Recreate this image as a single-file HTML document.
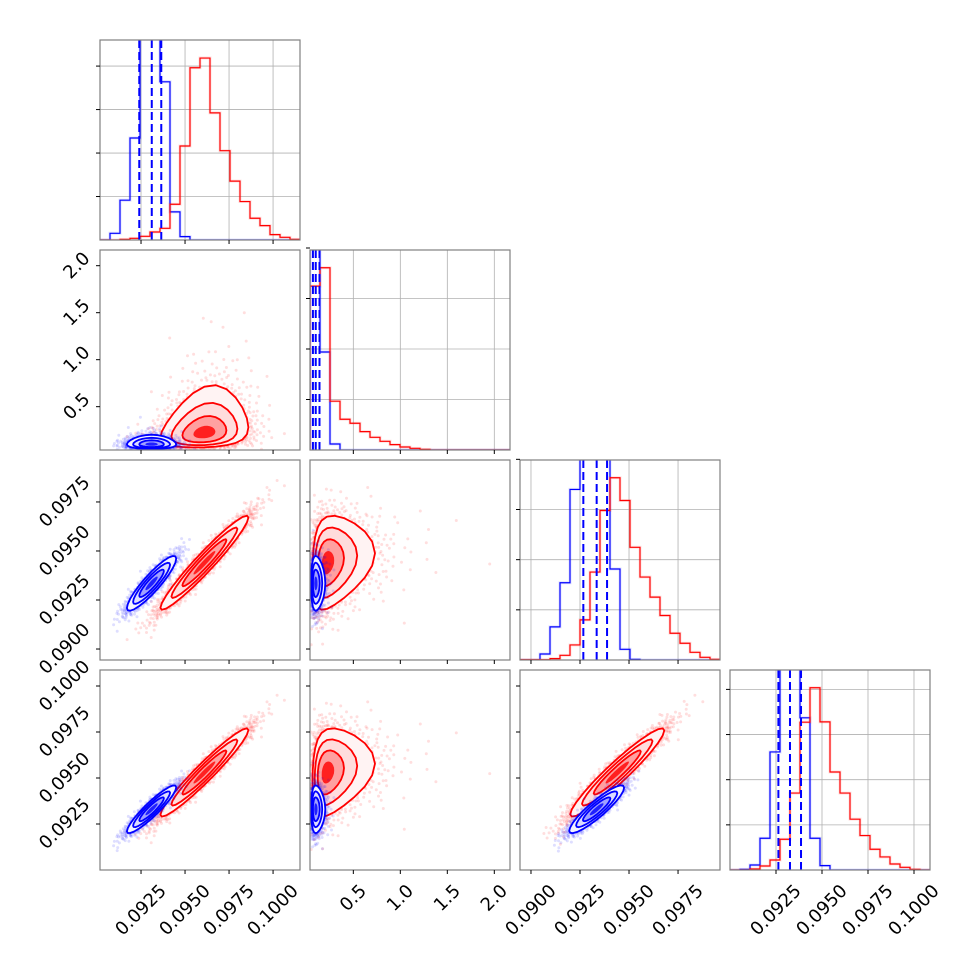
<!DOCTYPE html>
<html><head><meta charset="utf-8"><style>
html,body{margin:0;padding:0;background:#fff}
svg{display:block}
text{font-family:"DejaVu Sans","Liberation Sans",sans-serif;font-size:18px;fill:#000}
</style></head><body>
<svg id="fig" width="970" height="970" viewBox="0 0 970 970" xmlns="http://www.w3.org/2000/svg"></svg>
<script>
// ---- data ----
const paramMin = [0.09017, 0.039, 0.08944, 0.09];
const paramMax = [0.10153, 2.167, 0.09964, 0.10087];
const tickVals = [[0.0925,0.095,0.0975,0.1],[0.5,1.0,1.5,2.0],[0.09,0.0925,0.095,0.0975],[0.0925,0.095,0.0975,0.1]];
const tickLabels = [["0.0925","0.0950","0.0975","0.1000"],["0.5","1.0","1.5","2.0"],["0.0900","0.0925","0.0950","0.0975"],["0.0925","0.0950","0.0975","0.1000"]];
// histogram counts, 20 bins across each param range
const histBlue0 = [0,20,119,305,760,700,473,84,10,0,0,0,0,0,0,0,0,0,0,0];
const histRed0  = [0,0,2,5,11,24,35,107,281,515,544,380,267,176,115,65,43,16,8,2];
const histBlue1 = [820,293,18,0,0,0,0,0,0,0,0,0,0,0,0,0,0,0,0,0];
const histRed1  = [490,545,146,92,80,55,38,26,16,9,5,2,0,0,0,0,0,0,0,0];
const histBlue2 = [0,0,18,99,231,510,700,760,690,272,32,2,0,0,0,0,0,0,0,0];
const histRed2  = [1,1,1,4,14,45,120,263,447,545,477,337,248,188,133,80,50,23,8,2];
const histBlue3 = [0,2,15,95,353,720,740,455,95,13,0,0,0,0,0,0,0,0,0,0];
const histRed3  = [0,0,3,12,30,92,230,442,545,443,293,230,152,103,62,39,18,8,2,0];
const diagTicks = [[130,260,390,520],[151,302,453,604],[150,300,450,600],[135,270,405,540]];
const quantBlue0 = [0.09240,0.09311,0.09365];
const quantBlue1 = [0.07,0.10,0.14];
const quantBlue2 = [0.09267,0.09335,0.09388];
const quantBlue3 = [0.09263,0.09326,0.09386];
// summary stats of samples (param1 is log-normal: median, log-sigma)
const blueMean = [0.0931, 0.10, 0.09335, 0.0933];
const blueSd   = [0.0007, 0.35, 0.0007, 0.00065];
const redMean  = [0.0961, 0.22, 0.0944, 0.0953];
const redSd    = [0.00125, 0.6, 0.0012, 0.0012];
const blueCorr = [[1,0,0.9,0.92],[0,1,0,0],[0.9,0,1,0.9],[0.92,0,0.9,1]];
const redCorr  = [[1,0.2,0.96,0.96],[0.2,1,0.2,0.2],[0.96,0.2,1,0.95],[0.96,0.2,0.95,1]];
const sigmaLevels = [2,1.5,1,0.5];

// ---- layout ----
const NS="http://www.w3.org/2000/svg";
const svg=document.getElementById('fig');
const L=[100,310,520,730], T=[40,250,460,670], S=200;
function mk(tag,attrs,parent){const e=document.createElementNS(NS,tag);for(const k in attrs)e.setAttribute(k,attrs[k]);(parent||svg).appendChild(e);return e;}
function sx(p,c,v){return L[c]+(v-paramMin[p])/(paramMax[p]-paramMin[p])*S;}
function sy(p,r,v){return T[r]+S-(v-paramMin[p])/(paramMax[p]-paramMin[p])*S;}
function toVal(p,mean,sd,z){return p===1?Math.exp(Math.log(mean[p])+sd[p]*z):mean[p]+sd[p]*z;}
function halton(i,b){let f=1,r=0;while(i>0){f/=b;r+=f*(i%b);i=Math.floor(i/b);}return r;}
function textLen(s){let w=0;for(const ch of s)w+=(ch==='.'?0.318:0.636)*18;return w;}

const defs=mk('defs',{});
const colors={blue:['#0000ff',['#f3f3ff','#dcdcff','#a0a0ff','#2020ff']],red:['#ff0000',['#fff3f3','#ffdcdc','#ffa0a0','#ff2020']]};

for(let r=0;r<4;r++){
  for(let c=0;c<=r;c++){
    const id='clip'+r+c;
    const cp=mk('clipPath',{id:id},defs);
    mk('rect',{x:L[c],y:T[r],width:S,height:S},cp);
    const g=mk('g',{'clip-path':'url(#'+id+')'});
    
    
    if(r===c){
      const p=r;
      tickVals[p].forEach(v=>{const x=sx(p,c,v);mk('line',{x1:x,x2:x,y1:T[r],y2:T[r]+S,stroke:'#b0b0b0','stroke-width':0.8},g);});
      diagTicks[p].forEach(h=>{const y=T[r]+S-h/598*S;mk('line',{x1:L[c],x2:L[c]+S,y1:y,y2:y,stroke:'#b0b0b0','stroke-width':0.8},g);});
      const hb=[histBlue0,histBlue1,histBlue2,histBlue3][p], hr=[histRed0,histRed1,histRed2,histRed3][p];
      [[hb,'#0000ff','hist-blue'],[hr,'#ff0000','hist-red']].forEach(([h,col,nm])=>{
        const bw=(paramMax[p]-paramMin[p])/h.length;
        let d='M'+sx(p,c,paramMin[p])+','+(T[r]+S);
        h.forEach((v,i)=>{const y=T[r]+S-v/598*S;d+=' L'+sx(p,c,paramMin[p]+i*bw)+','+y+' L'+sx(p,c,paramMin[p]+(i+1)*bw)+','+y;});
        d+=' L'+sx(p,c,paramMax[p])+','+(T[r]+S);
        mk('path',{d:d,fill:'none',stroke:col,'stroke-opacity':0.12,'stroke-width':3},g);
        const pe=mk('path',{d:d,fill:'none',stroke:col,'stroke-width':1.2},g);
        
        
      });
      [quantBlue0,quantBlue1,quantBlue2,quantBlue3][p].forEach(q=>{const x=sx(p,c,q);
        const ln=mk('line',{x1:x,x2:x,y1:T[r],y2:T[r]+S,stroke:'#0000ff','stroke-width':2,'stroke-dasharray':'8,4'},g);
        
        
      });
    } else {
      const px=c, py=r;
      [['red',redMean,redSd,redCorr],['blue',blueMean,blueSd,blueCorr]].forEach(([nm,mean,sd,corr],k)=>{
        const rho=corr[px][py], q=Math.sqrt(1-rho*rho);
        const col=colors[nm];
        const pts=mk('g',{fill:col[0],'fill-opacity':0.13},g);
        
        
        const N=nm==='red'?2200:1500;
        for(let i=1;i<=N;i++){
          const u1=halton(i+k*5000+r*97,2), u2=halton(i+k*5000+r*97,3);
          const rad=Math.sqrt(-2*Math.log(Math.max(u1,1e-6)));
          const z1=rad*Math.cos(2*Math.PI*u2), z2=rad*Math.sin(2*Math.PI*u2);
          const a=z1, b=rho*z1+q*z2;
          mk('circle',{cx:sx(px,c,toVal(px,mean,sd,a)).toFixed(1),cy:sy(py,r,toVal(py,mean,sd,b)).toFixed(1),r:1.5},pts);
        }
        sigmaLevels.forEach((s,li)=>{
          let d='';
          for(let t=0;t<=24;t++){const th=t/24*2*Math.PI;const a=s*Math.cos(th), b=s*(rho*Math.cos(th)+q*Math.sin(th));
            d+=(t?'L':'M')+sx(px,c,toVal(px,mean,sd,a)).toFixed(1)+','+sy(py,r,toVal(py,mean,sd,b)).toFixed(1);}
          d+='Z';
          const ce=mk('path',{d:d,fill:col[1][li],stroke:li<3?col[0]:'none','stroke-width':1.8,'stroke-linejoin':'round'},g);
          
          
        });
      });
    }
    const fr=mk('rect',{x:L[c],y:T[r],width:S,height:S,fill:'none',stroke:'#808080','stroke-width':1.2});
    
    
    tickVals[c].forEach(v=>{const x=sx(c,c,v);mk('line',{x1:x,x2:x,y1:T[r]+S,y2:T[r]+S+4,stroke:'#000','stroke-width':1});});
    if(r===c){diagTicks[r].forEach(h=>{const y=T[r]+S-h/598*S;mk('line',{x1:L[c]-4,x2:L[c],y1:y,y2:y,stroke:'#000','stroke-width':1});});}
    else{tickVals[r].forEach(v=>{const y=sy(r,r,v);mk('line',{x1:L[c]-4,x2:L[c],y1:y,y2:y,stroke:'#000','stroke-width':1});});}
  }
}
for(let c=0;c<4;c++){
  tickVals[c].forEach((v,i)=>{
    const s=tickLabels[c][i], w=textLen(s)*0.707+12;
    const x=sx(c,c,v), y=882+w/2;
    const t=mk('text',{x:x,y:y,'text-anchor':'middle','dominant-baseline':'central',transform:'rotate(-45 '+x+' '+y+')'});
    t.textContent=s;
    
    
  });
}
for(let r=1;r<4;r++){
  tickVals[r].forEach((v,i)=>{
    const s=tickLabels[r][i], w=textLen(s)*0.707+12;
    const y=sy(r,r,v), x=93-w/2;
    const t=mk('text',{x:x,y:y,'text-anchor':'middle','dominant-baseline':'central',transform:'rotate(-45 '+x+' '+y+')'});
    t.textContent=s;
    
    
  });
}
</script>
</body></html>
